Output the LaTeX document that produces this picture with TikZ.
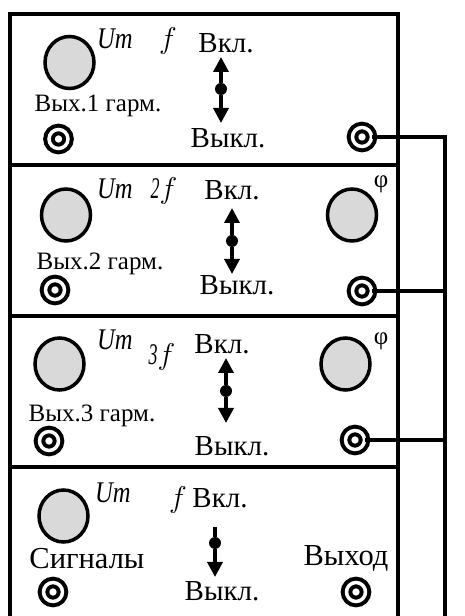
\RequirePackage{fix-cm}
\documentclass[tikz,border=0pt]{standalone}
\usepackage{fontspec}
\setmainfont{Liberation Serif}
\usetikzlibrary{positioning}
\usetikzlibrary{arrows.meta}
\usetikzlibrary{shapes.geometric}
\newcommand{\narrowit}[2]{\scalebox{#1}[1]{\itshape #2}}

\begin{document}
\begin{tikzpicture}
	[x=1pt,y=1pt,
	 panel/.style={rectangle,draw,line width=3.5pt,minimum width=388pt,inner sep=0,outer sep=0},
	 knob/.style={ellipse,draw,line width=3.5pt,fill=black!15,minimum width=49pt,minimum height=52pt,inner sep=0,outer sep=0},
	 jack/.style={circle,draw,line width=4pt,double=white,double distance=3.5pt,minimum size=19pt,inner sep=0,outer sep=0},
	 pivot/.style={circle,fill=black,minimum size=12pt,inner sep=0,outer sep=0},
	 tipend/.style={inner sep=0,outer sep=0,minimum size=0},
	 lever/.style={line width=3.5pt},
	 leverup/.style={lever,-{Triangle[width=15pt,length=15pt]}},
	 wire/.style={line width=3.3pt},
	 big/.style={anchor=base,inner sep=0,font=\fontsize{29}{29}\selectfont},
	 small/.style={anchor=base,inner sep=0,font=\fontsize{25}{25}\selectfont},
	 sig/.style={anchor=base,inner sep=0,font=\fontsize{30.5}{30.5}\selectfont},
	 var/.style={anchor=base,inner sep=0,font=\fontsize{30}{30}\selectfont},
	 phase/.style={anchor=base,inner sep=0,font=\fontsize{25}{25}\selectfont}]
	\useasboundingbox (0,0) rectangle (464,616);

	\node (p1) [panel,minimum height=151pt] at (204,526.5) {};
	\node (p2) [panel,minimum height=151pt] at (204,375.5) {};
	\node (p3) [panel,minimum height=151pt] at (204,224.5) {};
	\node (p4) [panel,minimum height=156pt] at (204,71) {};

	% first harmonic
	\node (k1) [knob] at (69.5,553.5) {};
	\node (um1) [var] at (115,567) {\narrowit{.82}{Um}};
	\node (f1) [var] at (168,567) {$f$};
	\node (on1) [big] at (226,563) {Вкл.};
	\node (off1) [big] at (228,468) {Выкл.};
	\node (out1) [small] at (98,504) {Вых.1 гарм.};
	\node (j1a) [jack] at (58.5,477) {};
	\node (j1b) [jack] at (362,479) {};
	\node (s1) [pivot] at (221,527) {};
	\node (s1u) [tipend,above=26pt of s1] {};
	\node (s1d) [tipend,below=28pt of s1] {};
	\draw [leverup] (s1) -- (s1u);
	\draw [leverup] (s1) -- (s1d);

	% second harmonic
	\node (k2) [knob] at (66,401) {};
	\node (k2r) [knob] at (352,401) {};
	\node (um2) [var] at (115,417) {\narrowit{.82}{Um}};
	\node (f2) [var] at (164,417) {\narrowit{.6}{2}$f$};
	\node (ph2) [phase] at (381,428) {φ};
	\node (on2) [big] at (232,416) {Вкл.};
	\node (off2) [big] at (237,321) {Выкл.};
	\node (out2) [small] at (100,346) {Вых.2 гарм.};
	\node (j2a) [jack] at (55,326) {};
	\node (j2b) [jack] at (362,325) {};
	\node (s2) [pivot] at (232,375) {};
	\node (s2u) [tipend,above=27pt of s2] {};
	\node (s2d) [tipend,below=27pt of s2] {};
	\draw [leverup] (s2) -- (s2u);
	\draw [leverup] (s2) -- (s2d);

	% third harmonic
	\node (k3) [knob] at (59.5,252) {};
	\node (k3r) [knob] at (345.5,252) {};
	\node (um3) [var] at (115,266) {\narrowit{.82}{Um}};
	\node (f3) [var] at (162,251) {\narrowit{.6}{3}$f$};
	\node (ph3) [phase] at (381,271) {φ};
	\node (on3) [big] at (222,262) {Вкл.};
	\node (off3) [big] at (232,160) {Выкл.};
	\node (out3) [small] at (92,194) {Вых.3 гарм.};
	\node (j3a) [jack] at (49,175) {};
	\node (j3b) [jack] at (355,176) {};
	\node (s3) [pivot] at (226,225) {};
	\node (s3u) [tipend,above=27pt of s3] {};
	\node (s3d) [tipend,below=26pt of s3] {};
	\draw [leverup] (s3) -- (s3u);
	\draw [leverup] (s3) -- (s3d);

	% signals and output
	\node (k4) [knob] at (63.5,100) {};
	\node (um4) [var] at (113,113) {\narrowit{.82}{Um}};
	\node (f4) [var] at (178,108) {$f$};
	\node (on4) [big] at (220,108) {Вкл.};
	\node (off4) [big] at (222,16) {Выкл.};
	\node (sg4) [sig] at (87,47) {Сигналы};
	\node (o4) [sig] at (346,50) {Выход};
	\node (j4a) [jack] at (53,24) {};
	\node (j4b) [jack] at (356,24) {};
	\node (s4) [pivot] at (215,73) {};
	\node (s4u) [tipend,above=10pt of s4] {};
	\node (s4d) [tipend,below=28pt of s4] {};
	\draw [lever] (s4) -- (s4u);
	\draw [leverup] (s4) -- (s4d);

	% common bus
	\coordinate (bus) at (445,-4);
	\draw [wire] (j1b) -| (bus);
	\draw [wire] (j2b) -- (j2b -| bus);
	\draw [wire] (j3b) -- (j3b -| bus);
\end{tikzpicture}
\end{document}
